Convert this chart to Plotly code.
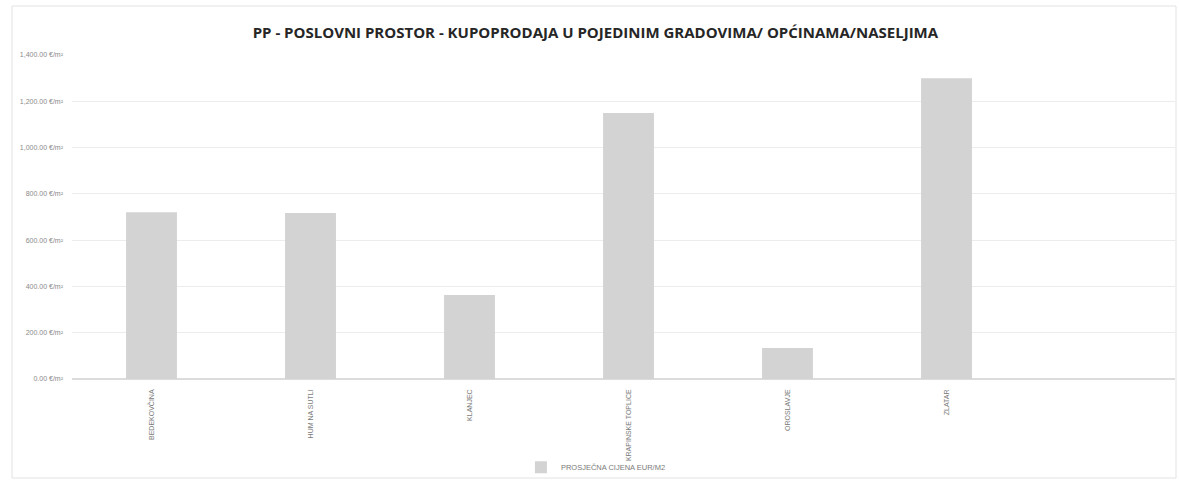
import plotly.graph_objects as go

# Average price per square metre of business premises, by town / municipality
categories = ["BEDEKOVČINA", "HUM NA SUTLI", "KLANJEC", "KRAPINSKE TOPLICE", "OROSLAVJE", "ZLATAR"]
avg_price = [721, 717, 363, 1149, 134, 1300]
y_ticks = [0, 200, 400, 600, 800, 1000, 1200, 1400]
y_tick_labels = [f"{v:,.2f} €/m²" for v in y_ticks]

title_text = "PP - POSLOVNI PROSTOR - KUPOPRODAJA U POJEDINIM GRADOVIMA/ OPĆINAMA/NASELJIMA"
series_name = "PROSJEČNA CIJENA EUR/M2"

W, H = 1179, 485
ML, MR, MT, MB = 72, 4, 55, 106
plot_w = W - ML - MR
plot_h = H - MT - MB

fig = go.Figure()
fig.add_trace(go.Bar(
    x=list(range(len(categories))),
    y=avg_price,
    width=0.32,
    name=series_name,
    marker=dict(color="#d3d3d3", line=dict(width=0)),
    showlegend=True,
))

fig.update_layout(
    width=W, height=H,
    margin=dict(l=ML, r=MR, t=MT, b=MB),
    paper_bgcolor="white",
    plot_bgcolor="white",
    font=dict(family="Liberation Sans, Arial, sans-serif", color="#8a8a8a"),
    title=dict(
        text=title_text,
        x=0.505, xanchor="center", y=0.932, yanchor="middle",
        font=dict(family="Open Sans, Liberation Sans, sans-serif", size=15, color="#262626", weight="bold"),
    ),
    xaxis=dict(
        range=[-0.5, (1175 - ML) / 159 - 0.5],
        tickmode="array",
        tickvals=list(range(len(categories))),
        ticktext=categories,
        tickangle=-90,
        tickfont=dict(size=7, color="#7a7a7a"),
        showgrid=False,
        zeroline=False,
        showline=False,
        ticks="",
        ticklabelstandoff=8,
    ),
    yaxis=dict(
        range=[0, 1400],
        tickmode="array",
        tickvals=y_ticks,
        ticktext=y_tick_labels,
        tickfont=dict(size=7, color="#8a8a8a"),
        showgrid=True,
        gridcolor="#ececec",
        gridwidth=1,
        zeroline=True,
        zerolinecolor="#dcdcdc",
        showline=False,
        ticks="",
        ticklabelstandoff=8,
    ),
    legend=dict(
        orientation="h",
        x=0.475, xanchor="center",
        y=-0.272, yanchor="middle",
        font=dict(size=7.5, color="#7a7a7a"),
        itemwidth=30,
        bgcolor="rgba(0,0,0,0)",
    ),
    bargap=0.68,
)

# Thin chart frame around the whole figure
def px_x(px):
    return (px - ML) / plot_w

def px_y(py):
    return (H - MB - py) / plot_h

fig.add_shape(
    type="rect", xref="paper", yref="paper",
    x0=px_x(12), x1=px_x(1176), y0=px_y(478), y1=px_y(6),
    line=dict(color="#e2e2e2", width=1), fillcolor="rgba(0,0,0,0)", layer="below",
)

fig.write_html("out.html")
